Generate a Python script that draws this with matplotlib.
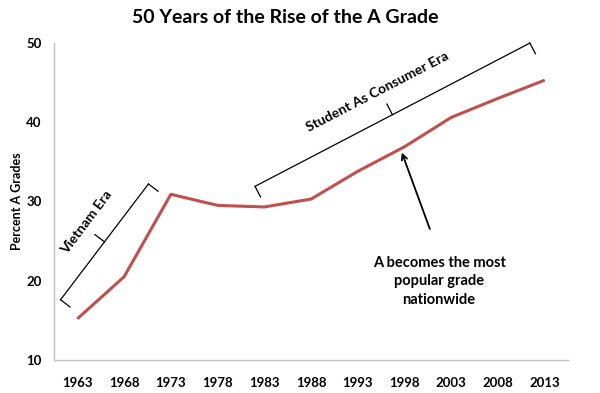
import numpy as np
from matplotlib import pyplot as plt

plt.rcParams['font.family'] = ['Lato', 'DejaVu Sans']

years = ['1963', '1968', '1973', '1978', '1983', '1988', '1993', '1998', '2003', '2008', '2013']
pct_a = [15.2, 20.5, 30.9, 29.5, 29.3, 30.3, 33.8, 36.9, 40.6, 43.0, 45.3]
y_ticks = [10, 20, 30, 40, 50]


def bracket(ax, p1, p2, tick=12):
    # draw a bracket from p1 to p2 (data coords), end ticks below, mid tick above
    d1 = ax.transData.transform(p1)
    d2 = ax.transData.transform(p2)
    v = d2 - d1
    n = np.array([v[1], -v[0]]) / np.hypot(*v)  # perpendicular, pointing down-right
    mid = (d1 + d2) / 2
    inv = ax.transData.inverted()
    segs = [(d1, d2), (d1, d1 + n * tick), (d2, d2 + n * tick), (mid, mid - n * tick)]
    for a, b in segs:
        a, b = inv.transform(a), inv.transform(b)
        ax.plot([a[0], b[0]], [a[1], b[1]], color='black', lw=0.9, clip_on=False)


def main():
    fig = plt.figure(figsize=(6, 3.93), dpi=100)
    ax = fig.add_axes([0.09, 0.084, 0.857, 0.807])

    x = np.arange(len(years))
    ax.plot(x, pct_a, color='#C0504D', lw=2.2, solid_capstyle='butt')

    ax.set_xlim(-0.5, len(years) - 0.5)
    ax.set_ylim(10, 50)
    ax.set_xticks(x)
    ax.set_xticklabels(years, fontsize=9.5, fontweight='bold')
    ax.set_yticks(y_ticks)
    ax.set_yticklabels([str(v) for v in y_ticks], fontsize=9.5, fontweight='bold')
    ax.tick_params(length=0)
    ax.tick_params(axis='x', pad=12)
    ax.tick_params(axis='y', pad=9)
    for s in ['top', 'right']:
        ax.spines[s].set_visible(False)
    for s in ['left', 'bottom']:
        ax.spines[s].set_color('#bfbfbf')
        ax.spines[s].set_linewidth(1.0)

    ax.set_ylabel('Percent A Grades', fontsize=9, fontweight='bold', labelpad=2)
    fig.text(0.475, 0.955, '50 Years of the Rise of the A Grade', fontsize=14,
             fontweight='bold', ha='center', va='center')

    # era brackets
    bracket(ax, (-0.36, 17.6), (1.52, 32.2))
    bracket(ax, (3.80, 31.9), (9.68, 49.97))
    ax.text(0.21, 27.4, 'Vietnam Era', rotation=53, fontsize=10, fontweight='bold',
            ha='center', va='center', rotation_mode='anchor')
    ax.text(6.41, 43.8, 'Student As Consumer Era', rotation=27.5, fontsize=10,
            fontweight='bold', ha='center', va='center', rotation_mode='anchor')

    ax.annotate('', xy=(6.92, 36.5), xytext=(7.56, 26.2),
                arrowprops=dict(arrowstyle='->', color='black', lw=1.3))
    ax.text(7.74, 19.9, 'A becomes the most\npopular grade\nnationwide', fontsize=10.5,
            fontweight='bold', ha='center', va='center', linespacing=1.45)

    fig.savefig('out.png', dpi=100)


if __name__ == '__main__':
    main()
